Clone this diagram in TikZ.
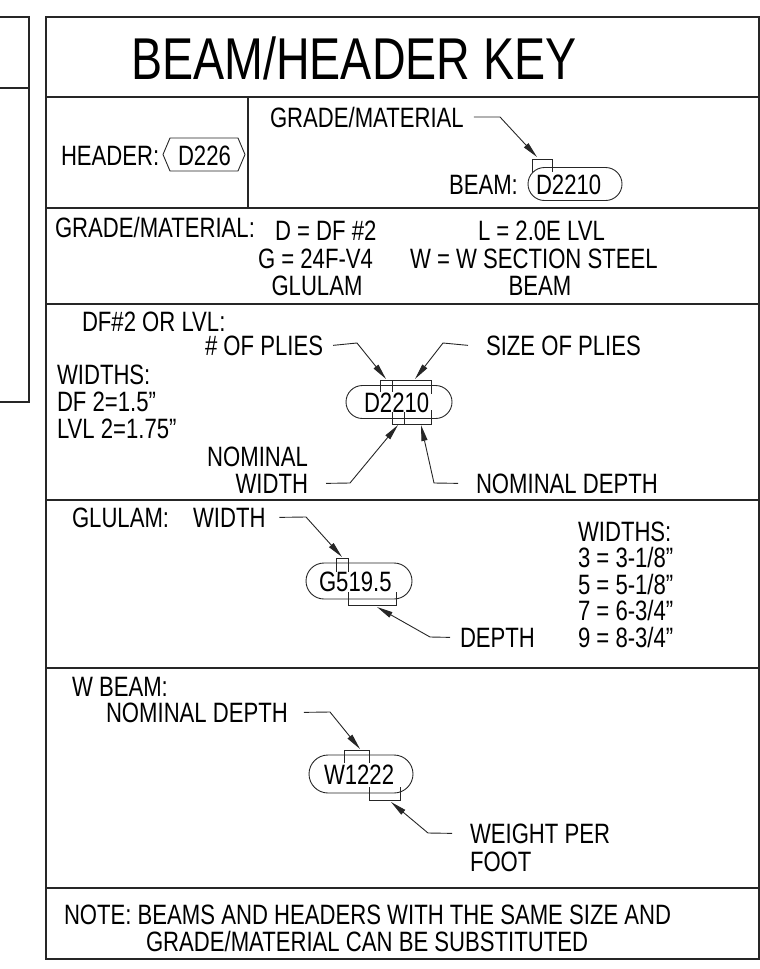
\documentclass[tikz,border=0pt]{standalone}
\usepackage{fontspec}
\setmainfont{Liberation Sans}[FakeStretch=0.79]
\usetikzlibrary{arrows.meta,shapes.misc}
\newcommand{\bodyfont}{\fontsize{28}{28}\selectfont}
\newcommand{\titlefont}{\fontsize{59}{59}\selectfont}
\begin{document}
\begin{tikzpicture}[x=1pt,y=-1pt,
  frame/.style={line width=1.2pt,draw=black!85},
  txt/.style={inner sep=0pt,outer sep=0pt,anchor=base west,font=\bodyfont},
  ctxt/.style={inner sep=0pt,outer sep=0pt,anchor=base,font=\bodyfont},
  etxt/.style={inner sep=0pt,outer sep=0pt,anchor=base east,font=\bodyfont},
  pill/.style={draw=black!85,line width=0.9pt,rounded rectangle,inner sep=0pt},
  lead/.style={draw=black!85,line width=0.9pt,-{Triangle[length=16pt,width=6pt]}},
  brk/.style={draw=black!85,line width=0.8pt}]
\useasboundingbox (0,0) rectangle (760,969);
% left partial box
\draw[frame] (-2,17) rectangle (29,402);
\draw[frame] (-2,88) -- (29,88);
% main frame
\draw[frame] (46,17) rectangle (759,959);
\foreach \yy in {97,208,304,500,668,888} {\draw[frame] (46,\yy) -- (759,\yy);}
\draw[frame] (248,97) -- (248,208);
% title
\node[inner sep=0pt,anchor=base west,font=\titlefont] (title) at (131,79) {BEAM/HEADER KEY};
% ---- row 2
\node[txt] (hdr) at (61,165) {HEADER:};
\node[txt] (hdrtag) at (178,165) {D226};
\draw[brk,line width=0.9pt] (163,154.5) -- (170,138) -- (238,138) -- (245,154.5) -- (238,171) -- (170,171) -- cycle;
\node[txt] (gm) at (270,127) {GRADE/MATERIAL};
\node[txt] (beamlbl) at (449,194) {BEAM:};
\node[pill,minimum width=94pt,minimum height=33pt] (p1) at (575,184) {};
\node[txt] (p1d) at (536,194) {D};
\node[txt] (p1r) at (p1d.base east) {2210};
\draw[brk] (532,173) -- (532,159) -- (p1d.east |- 0,159) -- (p1d.east |- 0,172);
\coordinate (k1) at (500,117);
\coordinate (t1) at (537,157);
\draw[lead] ([xshift=10pt]gm.east) -- (k1) -- (t1);
% ---- row 3
\node[txt] (gmk) at (55,237) {GRADE/MATERIAL:};
\node[txt] (gd) at (275,240) {D = DF \#2};
\node[txt] (gl) at (478,240) {L = 2.0E LVL};
\node[txt] (gg) at (258,268) {G = 24F-V4};
\node[txt] (gw) at (410,268) {W = W SECTION STEEL};
\node[ctxt] (ggl) at (317,295) {GLULAM};
\node[ctxt] (gbm) at (540,295) {BEAM};
% ---- row 4
\node[txt] (dfl) at (82,331) {DF\#2 OR LVL:};
\node[txt] (nply) at (205,355) {\# OF PLIES};
\node[txt] (sply) at (486,355) {SIZE OF PLIES};
\node[txt] (wd1) at (57,384) {WIDTHS:};
\node[txt] (wd2) at (57,411) {DF 2=1.5"};
\node[txt] (wd3) at (57,438) {LVL 2=1.75"};
\node[etxt] (nw1) at (308,466) {NOMINAL};
\node[etxt] (nw2) at (308,493) {WIDTH};
\node[txt] (nd) at (476,493) {NOMINAL DEPTH};
\node[pill,minimum width=106pt,minimum height=33pt] (p2) at (399,402) {};
\node[txt] (p2d) at (364,412) {D};
\node[txt] (p2a) at (p2d.base east) {2};
\node[txt] (p2b) at (p2a.base east) {2};
\node[txt] (p2c) at (p2b.base east) {10};
\draw[brk] (p2d.east |- 0,392) -- (p2d.east |- 0,380) -- ([xshift=2pt]p2c.east |- 0,380) -- ([xshift=2pt]p2c.east |- 0,394);
\draw[brk] (p2a.east |- 0,380) -- (p2a.east |- 0,392);
\draw[brk] (p2a.east |- 0,412) -- (p2a.east |- 0,424) -- ([xshift=2pt]p2c.east |- 0,424) -- ([xshift=2pt]p2c.east |- 0,410);
\draw[brk] (p2b.east |- 0,412) -- (p2b.east |- 0,424);
\coordinate (k2) at (357,343); \coordinate (t2) at (386,379);
\coordinate (k3) at (443,343); \coordinate (t3) at (415,379);
\coordinate (k4) at (350,483); \coordinate (t4) at (398,425);
\coordinate (k5) at (434,483); \coordinate (t5) at (421,425);
\draw[lead] ([xshift=10pt]nply.east) -- (k2) -- (t2);
\draw[lead] ([xshift=-18pt]sply.west) -- (k3) -- (t3);
\draw[lead] ([xshift=18pt]nw2.east) -- (k4) -- (t4);
\draw[lead] ([xshift=-18pt]nd.west) -- (k5) -- (t5);
% ---- row 5
\node[txt] (glu) at (72,527) {GLULAM:};
\node[txt] (gwd) at (193,527) {WIDTH};
\node[pill,minimum width=106pt,minimum height=36pt] (p3) at (359,581) {};
\node[txt] (p3g) at (319,591) {G};
\node[txt] (p3a) at (p3g.base east) {5};
\node[txt] (p3b) at (p3a.base east) {19.5};
\draw[brk] (p3g.east |- 0,572) -- (p3g.east |- 0,558) -- (p3a.east |- 0,558) -- (p3a.east |- 0,572);
\draw[brk] (p3a.east |- 0,592) -- (p3a.east |- 0,605) -- ([xshift=5pt]p3b.east |- 0,605) -- ([xshift=5pt]p3b.east |- 0,592);
\node[txt] (gdp) at (460,647) {DEPTH};
\node[txt] (gw0) at (578,541) {WIDTHS:};
\node[txt] (gw3) at (578,567.5) {3 = 3-1/8"};
\node[txt] (gw5) at (578,594) {5 = 5-1/8"};
\node[txt] (gw7) at (578,620.5) {7 = 6-3/4"};
\node[txt] (gw9) at (578,647) {9 = 8-3/4"};
\coordinate (k6) at (306,517); \coordinate (t6) at (342,557);
\coordinate (k7) at (430,637); \coordinate (t7) at (377,607);
\draw[lead] ([xshift=14pt]gwd.east) -- (k6) -- (t6);
\draw[lead] ([xshift=-10pt]gdp.west) -- (k7) -- (t7);
% ---- row 6
\node[txt] (wb) at (72,696) {W BEAM:};
\node[txt] (wnd) at (106,722) {NOMINAL DEPTH};
\node[pill,minimum width=104pt,minimum height=38pt] (p4) at (361,774) {};
\node[txt] (p4w) at (324,784) {W};
\node[txt] (p4a) at (p4w.base east) {12};
\node[txt] (p4b) at (p4a.base east) {22};
\draw[brk] (p4w.east |- 0,763) -- (p4w.east |- 0,750) -- (p4a.east |- 0,750) -- (p4a.east |- 0,763);
\draw[brk] (p4a.east |- 0,787) -- (p4a.east |- 0,800) -- ([xshift=6pt]p4b.east |- 0,800) -- ([xshift=6pt]p4b.east |- 0,787);
\node[txt] (wpf1) at (470,843) {WEIGHT PER};
\node[txt] (wpf2) at (470,871) {FOOT};
\coordinate (k8) at (330,712); \coordinate (t8) at (360,749);
\coordinate (k9) at (428,833); \coordinate (t9) at (391,802);
\draw[lead] ([xshift=16pt]wnd.east) -- (k8) -- (t8);
\draw[lead] ([xshift=-18pt]wpf1.west) -- (k9) -- (t9);
% ---- note
\node[txt] (n1) at (64,924) {NOTE: BEAMS AND HEADERS WITH THE SAME SIZE AND};
\node[txt] (n2) at (146,951) {GRADE/MATERIAL CAN BE SUBSTITUTED};
\end{tikzpicture}
\end{document}
